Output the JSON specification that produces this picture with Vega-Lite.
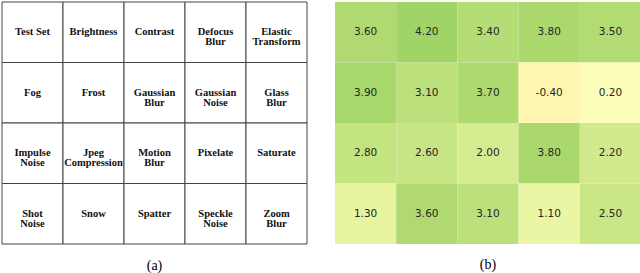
{
  "$schema": "https://vega.github.io/schema/vega-lite/v6.json",
  "padding": {"left": 1, "top": 1, "right": 0, "bottom": 0},
  "spacing": 27,
  "config": {"view": {"stroke": null}, "title": {"font": "Liberation Serif", "fontSize": 14, "fontWeight": "normal", "color": "#000", "orient": "bottom", "offset": 14}},
  "datasets": {
    "table": [
      {"r": 1, "c": 1, "label": "Test Set"},
      {"r": 1, "c": 2, "label": "Brightness"},
      {"r": 1, "c": 3, "label": "Contrast"},
      {"r": 1, "c": 4, "label": "Defocus\nBlur"},
      {"r": 1, "c": 5, "label": "Elastic\nTransform"},
      {"r": 2, "c": 1, "label": "Fog"},
      {"r": 2, "c": 2, "label": "Frost"},
      {"r": 2, "c": 3, "label": "Gaussian\nBlur"},
      {"r": 2, "c": 4, "label": "Gaussian\nNoise"},
      {"r": 2, "c": 5, "label": "Glass\nBlur"},
      {"r": 3, "c": 1, "label": "Impulse\nNoise"},
      {"r": 3, "c": 2, "label": "Jpeg\nCompression"},
      {"r": 3, "c": 3, "label": "Motion\nBlur"},
      {"r": 3, "c": 4, "label": "Pixelate"},
      {"r": 3, "c": 5, "label": "Saturate"},
      {"r": 4, "c": 1, "label": "Shot\nNoise"},
      {"r": 4, "c": 2, "label": "Snow"},
      {"r": 4, "c": 3, "label": "Spatter"},
      {"r": 4, "c": 4, "label": "Speckle\nNoise"},
      {"r": 4, "c": 5, "label": "Zoom\nBlur"}
    ],
    "heat": [
      {"r": 1, "c": 1, "v": 3.6}, {"r": 1, "c": 2, "v": 4.2}, {"r": 1, "c": 3, "v": 3.4}, {"r": 1, "c": 4, "v": 3.8}, {"r": 1, "c": 5, "v": 3.5},
      {"r": 2, "c": 1, "v": 3.9}, {"r": 2, "c": 2, "v": 3.1}, {"r": 2, "c": 3, "v": 3.7}, {"r": 2, "c": 4, "v": -0.4}, {"r": 2, "c": 5, "v": 0.2},
      {"r": 3, "c": 1, "v": 2.8}, {"r": 3, "c": 2, "v": 2.6}, {"r": 3, "c": 3, "v": 2.0}, {"r": 3, "c": 4, "v": 3.8}, {"r": 3, "c": 5, "v": 2.2},
      {"r": 4, "c": 1, "v": 1.3}, {"r": 4, "c": 2, "v": 3.6}, {"r": 4, "c": 3, "v": 3.1}, {"r": 4, "c": 4, "v": 1.1}, {"r": 4, "c": 5, "v": 2.5}
    ]
  },
  "hconcat": [
    {
      "width": 305,
      "height": 242,
      "title": "(a)",
      "data": {"name": "table"},
      "encoding": {
        "x": {"field": "c", "type": "ordinal", "axis": null, "scale": {"paddingInner": 0, "paddingOuter": 0}},
        "y": {"field": "r", "type": "ordinal", "axis": null, "scale": {"paddingInner": 0, "paddingOuter": 0}}
      },
      "layer": [
        {"mark": {"type": "rect", "fill": "#ffffff", "stroke": "#444444", "strokeWidth": 1}},
        {"mark": {"type": "text", "font": "Liberation Serif", "fontWeight": "bold", "fontSize": 10.5, "lineBreak": "\n", "lineHeight": 10, "color": "#111111", "baseline": "middle"},
         "encoding": {"text": {"field": "label"}}}
      ]
    },
    {
      "width": 306,
      "height": 242,
      "title": "(b)",
      "data": {"name": "heat"},
      "transform": [{"calculate": "replace(format(datum.v, '.2f'), '\u2212', '-')", "as": "txt"}],
      "encoding": {
        "x": {"field": "c", "type": "ordinal", "axis": null, "scale": {"paddingInner": 0, "paddingOuter": 0}},
        "y": {"field": "r", "type": "ordinal", "axis": null, "scale": {"paddingInner": 0, "paddingOuter": 0}}
      },
      "layer": [
        {"mark": {"type": "rect"},
         "encoding": {"color": {"field": "v", "type": "quantitative", "legend": null,
           "scale": {"domain": [-0.4, 0.2, 1.3, 4.2], "range": ["#fef5ae", "#fcfdb9", "#e6f4a0", "#a0d466"]}}}},
        {"mark": {"type": "text", "font": "DejaVu Sans", "fontSize": 10.5, "color": "#262626"},
         "encoding": {"text": {"field": "txt"}}}
      ]
    }
  ]
}
